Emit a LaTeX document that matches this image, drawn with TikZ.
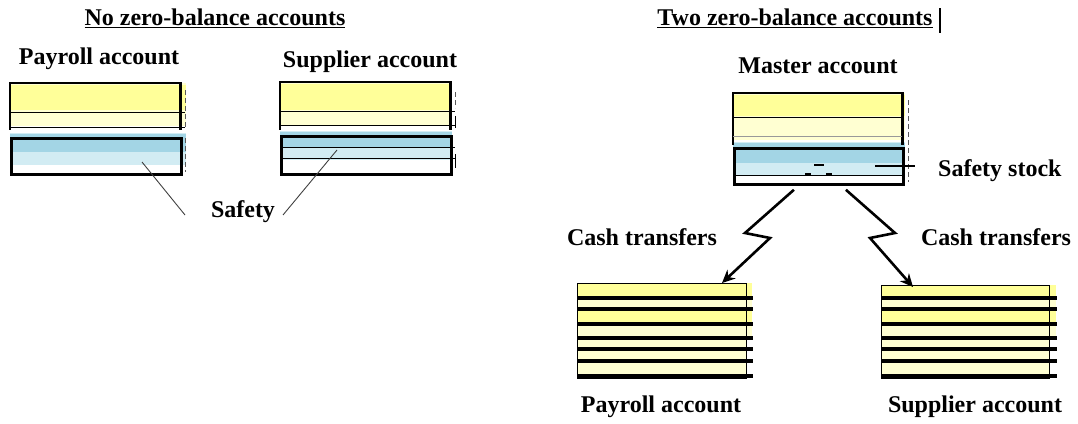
\documentclass[tikz,border=0pt]{standalone}
\usepackage{fontspec}
\setmainfont{Liberation Serif}
\usetikzlibrary{arrows.meta}
\definecolor{ylw}{HTML}{FFFF99}
\definecolor{ylwl}{HTML}{FFFFD2}
\definecolor{blu}{HTML}{A3D5E5}
\definecolor{blul}{HTML}{D2ECF3}
\tikzset{
  lbl/.style={font=\bfseries\fontsize{24}{28}\selectfont, inner sep=0pt},
  ttl/.style={font=\bfseries\fontsize{24}{28}\selectfont, inner sep=0pt},
  tbox/.style={draw=black, line width=2.8pt, inner sep=0pt, anchor=north west},
  ybox/.style={inner sep=0pt, anchor=north west},
  tedge/.style={draw=black, line width=2.8pt, line cap=rect},
  sbox/.style={draw=black, line width=1.4pt, inner sep=0pt, anchor=north west},
  thin/.style={draw=black, line width=1pt},
  heavy/.style={draw=black, line width=3.8pt},
  tick/.style={draw=gray!70!black, line width=1pt, dashed, dash pattern=on 5pt off 3pt},
  leader/.style={draw=black!75, line width=0.9pt},
  zz/.style={draw=black, line width=2.6pt, line join=miter, -{Stealth[length=13pt,width=12pt]}},
}
\begin{document}
\begin{tikzpicture}[x=1pt,y=-1pt]
\useasboundingbox (0,0) rectangle (1078,423);

% ---------- titles ----------
\node[ttl] (t1) at (215,18) {\underline{No zero-balance accounts}};
\node[ttl] (t2) at (795,18) {\underline{Two zero-balance accounts}};
\draw[line width=1.2pt] (940,8) -- (940,33);

% ---------- left: payroll account ----------
\node[lbl] (lp) at (99,59) {Payroll account};
\fill[ylwl] (10,83) rectangle (186,126);
\fill[ylw] (10,85) rectangle (186,110);
\fill[blul] (10,133) rectangle (186,165);
\fill[blu] (10,134) rectangle (186,152);
\node[ybox, minimum width=170, minimum height=45] (pY) at (10,83) {};
\draw[tedge] (pY.south west) -- (pY.north west) -- (pY.north east) -- (pY.south east);
\draw[thin] (10,112) -- (185,112);
\draw[thin] (10,127) -- (185,127);
\draw[tick] (185,90) -- (185,128);
\draw[tick] (185,138) -- (185,172);
\node[tbox, minimum width=170, minimum height=36] (pB) at (10,137) {};

% ---------- left: supplier account ----------
\node[lbl] (ls) at (370,62) {Supplier account};
\fill[ylwl] (280,82) rectangle (452,126);
\fill[ylw] (280,84) rectangle (452,110);
\fill[blul] (280,131) rectangle (452,160);
\fill[blu] (280,132) rectangle (452,148);
\node[ybox, minimum width=170, minimum height=46] (sY) at (280,82) {};
\draw[tedge] (sY.south west) -- (sY.north west) -- (sY.north east) -- (sY.south east);
\draw[thin] (280,111) -- (455,111);
\draw[thin] (280,125) -- (455,125);
\draw[line width=1pt] (455,116) -- (455,128);
\draw[tick] (455,92) -- (455,108);
\node[tbox, minimum width=170, minimum height=38] (sB) at (280,135) {};
\draw[thin] (280,147) -- (455,147);
\draw[thin] (280,158) -- (455,158);
\draw[line width=1pt] (455,154) -- (455,168);

% ---------- safety label ----------
\node[lbl] (sf) at (243,212) {Safety};
\coordinate (lp1) at (142,162);
\coordinate (lp2) at (185,215);
\coordinate (ls1) at (337,150);
\coordinate (ls2) at (283,215);
\draw[leader] (lp1) -- (lp2);
\draw[leader] (ls1) -- (ls2);

% ---------- master account ----------
\node[lbl] (lm) at (818,66) {Master account};
\fill[ylwl] (733,93) rectangle (905,140);
\fill[ylw] (733,95) rectangle (905,116);
\fill[blul] (733,142) rectangle (905,175);
\fill[blu] (733,143) rectangle (905,163);
\node[ybox, minimum width=169, minimum height=50] (mY) at (733,93) {};
\draw[tedge] (mY.south west) -- (mY.north west) -- (mY.north east) -- (mY.south east);
\draw[thin] (733,117) -- (902,117);
\draw[draw=black!40, line width=0.8pt] (733,136) -- (902,136);
\node[tbox, minimum width=169, minimum height=36] (M) at (733,147) {};
\draw[thin] (733,175) -- (902,175);
\draw[line width=1.4pt] (814,165) -- (824,165);
\draw[line width=1.4pt] (805,174) -- (811,174);
\draw[line width=1.4pt] (826,174) -- (832,174);
\draw[tick] (908,100) -- (908,182);
\node[lbl, anchor=west] (ss) at (938,171) {Safety stock};
\coordinate (sl1) at (875,166);
\coordinate (sl2) at (915,166);
\draw[line width=1.8pt] (sl1) -- (sl2);

% ---------- bottom accounts ----------
\fill[ylw] (577,283) rectangle (752,296);
\fill[ylwl] (577,300) rectangle (752,308);
\fill[ylw] (577,311) rectangle (752,322);
\fill[ylwl] (577,326) rectangle (752,336);
\fill[ylwl] (577,340) rectangle (746,374);
\node[sbox, minimum width=169, minimum height=95] (BP) at (577,283) {};
\foreach \yy in {298,309,324,338,349,361,376}
  \draw[heavy] (577,\yy) -- (753,\yy);

\fill[ylw] (881,285) rectangle (1056,296);
\fill[ylwl] (881,300) rectangle (1056,308);
\fill[ylw] (881,311) rectangle (1056,322);
\fill[ylwl] (881,326) rectangle (1056,336);
\fill[ylwl] (881,340) rectangle (1049,374);
\node[sbox, minimum width=168, minimum height=93] (BS) at (881,285) {};
\foreach \yy in {298,309,324,338,349,361,376}
  \draw[heavy] (881,\yy) -- (1057,\yy);

\node[lbl] (bp) at (661,407) {Payroll account};
\node[lbl] (bs) at (975,407) {Supplier account};

% ---------- cash transfers ----------
\node[lbl] (c1) at (642,237) {Cash transfers};
\node[lbl] (c2) at (996,237) {Cash transfers};
\coordinate (a1) at (745,233);
\coordinate (a2) at (770,238);
\coordinate (b1) at (895,233);
\coordinate (b2) at (870,238);
\draw[zz] ([xshift=-25pt,yshift=-4pt]M.south) -- (a1) -- (a2) -- ([xshift=145pt]BP.north west);
\draw[zz] ([xshift=27pt,yshift=-4pt]M.south) -- (b1) -- (b2) -- ([xshift=32pt,yshift=-2pt]BS.north west);
\end{tikzpicture}
\end{document}
